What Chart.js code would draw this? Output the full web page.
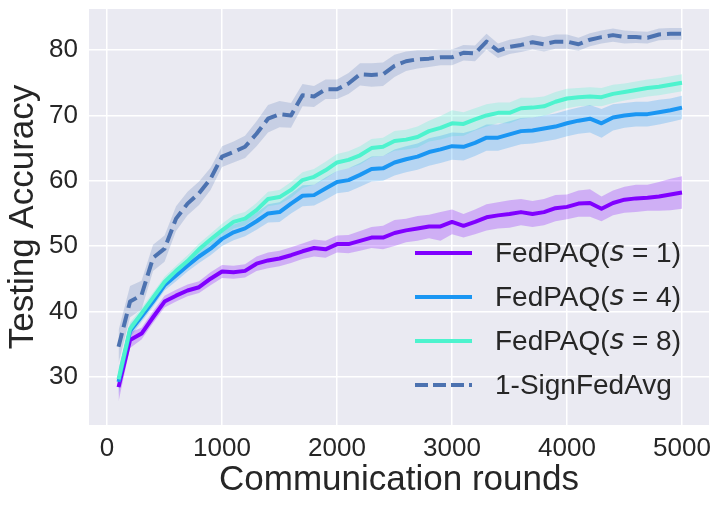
<!DOCTYPE html>
<html>
<head>
<meta charset="utf-8">
<script src="https://cdn.jsdelivr.net/npm/chart.js@4.4.1/dist/chart.umd.min.js"></script>
<style>
  html, body { margin: 0; padding: 0; background: #fff; }
  #wrap { width: 722px; height: 509px; }
</style>
</head>
<body>
<div id="wrap"><canvas id="acc" width="722" height="509"></canvas></div>
<script>
// communication rounds (x) for every recorded point
var rounds = [100, 200, 300, 400, 500, 600, 700, 800, 900, 1000,
  1100, 1200, 1300, 1400, 1500, 1600, 1700, 1800, 1900, 2000,
  2100, 2200, 2300, 2400, 2500, 2600, 2700, 2800, 2900, 3000,
  3100, 3200, 3300, 3400, 3500, 3600, 3700, 3800, 3900, 4000,
  4100, 4200, 4300, 4400, 4500, 4600, 4700, 4800, 4900, 5000];

// mean testing accuracy
var accS1 = [28.4, 35.6, 36.6, 39.1, 41.5, 42.4, 43.2, 43.7, 45.0, 46.1,
  46.0, 46.2, 47.3, 47.8, 48.1, 48.6, 49.2, 49.7, 49.5, 50.3,
  50.3, 50.8, 51.3, 51.3, 52.0, 52.4, 52.7, 53.0, 53.0, 53.7,
  53.1, 53.7, 54.4, 54.7, 54.9, 55.2, 54.9, 55.2, 55.8, 56.0,
  56.5, 56.6, 55.7, 56.6, 57.1, 57.3, 57.4, 57.6, 57.9, 58.2];
var accS4 = [29.2, 37.0, 39.2, 41.5, 44.0, 45.5, 47.0, 48.4, 49.6, 51.1,
  52.1, 52.7, 53.8, 55.0, 55.2, 56.5, 57.7, 57.8, 58.8, 59.8,
  60.1, 60.9, 61.8, 61.9, 62.8, 63.3, 63.7, 64.4, 64.8, 65.3,
  65.2, 65.8, 66.6, 66.6, 67.1, 67.6, 67.7, 68.0, 68.3, 68.8,
  69.2, 69.5, 68.8, 69.7, 70.0, 70.2, 70.2, 70.5, 70.8, 71.2];
var accS8 = [29.6, 37.3, 39.7, 42.1, 44.5, 46.2, 47.7, 49.5, 51.0, 52.4,
  53.7, 54.2, 55.5, 57.2, 57.5, 58.6, 60.1, 60.6, 61.6, 62.8,
  63.2, 63.9, 65.0, 65.2, 66.1, 66.3, 66.7, 67.6, 68.1, 68.8,
  68.7, 69.4, 70.0, 70.4, 70.4, 71.1, 71.2, 71.4, 72.1, 72.6,
  72.8, 72.9, 72.8, 73.3, 73.6, 73.9, 74.2, 74.4, 74.7, 75.0];
var accSign = [34.6, 41.5, 42.5, 48.2, 49.6, 54.2, 56.5, 58.1, 60.3, 63.7,
  64.4, 65.2, 67.2, 69.5, 70.2, 70.0, 73.1, 72.9, 74.0, 74.0,
  74.9, 76.3, 76.2, 76.3, 77.6, 78.3, 78.6, 78.7, 78.9, 78.9,
  79.6, 79.5, 81.3, 79.9, 80.5, 80.8, 81.2, 80.9, 81.3, 81.3,
  80.9, 81.6, 82.0, 82.3, 82.0, 82.0, 81.9, 82.4, 82.5, 82.5];

// half width of the shaded band around each mean
var spreadS1 = [2.2, 1.2, 0.9, 0.9, 0.9, 0.9, 0.9, 0.9, 1.0, 1.0,
  1.0, 1.0, 1.1, 1.2, 1.2, 1.2, 1.2, 1.3, 1.3, 1.3,
  1.4, 1.5, 1.6, 1.8, 2.0, 1.8, 1.9, 1.8, 2.2, 1.9,
  1.8, 1.9, 2.0, 2.0, 2.1, 2.0, 2.0, 2.0, 2.0, 1.9,
  2.0, 2.1, 1.9, 1.9, 2.0, 2.1, 2.0, 2.2, 2.4, 2.5];
var spreadS4 = [2.0, 1.0, 0.8, 0.8, 0.8, 0.9, 0.9, 1.0, 1.0, 1.1,
  1.2, 1.2, 1.3, 1.4, 1.5, 1.5, 1.6, 1.6, 1.7, 1.7,
  1.8, 1.8, 1.9, 1.9, 2.0, 2.0, 2.0, 2.1, 2.1, 2.1,
  2.1, 2.0, 2.0, 2.0, 2.0, 2.0, 2.0, 2.0, 2.0, 2.0,
  2.0, 2.1, 2.2, 2.0, 1.9, 1.9, 1.9, 1.9, 1.8, 1.8];
var spreadS8 = [1.5, 1.0, 0.8, 0.8, 0.8, 0.8, 0.9, 0.9, 0.9, 1.0,
  1.0, 1.0, 1.1, 1.1, 1.1, 1.2, 1.2, 1.2, 1.3, 1.3,
  1.3, 1.4, 1.4, 1.4, 1.5, 1.5, 1.6, 1.6, 1.8, 2.0,
  1.8, 1.7, 1.7, 1.6, 1.6, 1.6, 1.5, 1.5, 1.5, 1.5,
  1.4, 1.4, 1.4, 1.4, 1.3, 1.3, 1.3, 1.3, 1.3, 1.3];
var spreadSign = [2.5, 2.4, 2.2, 2.0, 2.0, 1.9, 1.8, 1.8, 1.7, 1.6,
  1.6, 1.7, 1.9, 2.1, 2.0, 1.9, 1.7, 1.6, 1.5, 1.5,
  1.6, 1.7, 1.8, 1.8, 1.7, 1.5, 1.4, 1.3, 1.2, 1.2,
  1.2, 1.2, 1.2, 1.1, 1.1, 1.1, 1.1, 1.1, 1.1, 1.1,
  1.0, 1.0, 1.0, 1.0, 1.0, 0.9, 0.9, 0.9, 0.9, 0.9];

var seriesNames = ['FedPAQ($s=1$)', 'FedPAQ($s=4$)', 'FedPAQ($s=8$)', '1-SignFedAvg'];
var xTicks = [0, 1000, 2000, 3000, 4000, 5000];
var yTicks = [30, 40, 50, 60, 70, 80];

var textColor = '#262626';
var fontFamily = '"Liberation Sans", Arial, sans-serif';

function pts(vals, off, sign) {
  return rounds.map(function(r, i) {
    return { x: r, y: off ? vals[i] + sign * off[i] : vals[i] };
  });
}

var series = [
  { vals: accS1, spread: spreadS1, color: '#8000ff', band: 'rgba(128,0,255,0.25)', dash: [] },
  { vals: accS4, spread: spreadS4, color: '#1a96f3', band: 'rgba(26,150,243,0.25)', dash: [] },
  { vals: accS8, spread: spreadS8, color: '#4df3ce', band: 'rgba(77,243,206,0.25)', dash: [] },
  { vals: accSign, spread: spreadSign, color: '#4c72b0', band: 'rgba(76,114,176,0.22)', dash: [14, 6] }
];

var datasets = [];
series.forEach(function(s, i) {
  datasets.push({
    data: pts(s.vals, s.spread, -1),
    borderWidth: 0, pointRadius: 0, fill: false, order: 20
  });
  datasets.push({
    data: pts(s.vals, s.spread, 1),
    borderWidth: 0, pointRadius: 0, fill: '-1', backgroundColor: s.band, order: 20
  });
});
series.forEach(function(s, i) {
  datasets.push({
    legendLabel: seriesNames[i],
    data: pts(s.vals),
    borderColor: s.color,
    borderWidth: 4,
    borderDash: s.dash,
    pointRadius: 0,
    fill: false,
    tension: 0,
    borderJoinStyle: 'round',
    order: 10 - i
  });
});

// seaborn style grey panel behind the grid
var panelBg = {
  id: 'panelBg',
  beforeDraw: function(chart) {
    var a = chart.chartArea, ctx = chart.ctx;
    ctx.save();
    ctx.fillStyle = '#eaeaf2';
    ctx.fillRect(a.left, a.top, a.right - a.left, a.bottom - a.top);
    ctx.restore();
  }
};

// legend inside the axes, lower right, no frame
function drawLabel(ctx, label, x, y, size) {
  var parts = label.split('$');
  parts.forEach(function(p, k) {
    if (k % 2 === 0) {
      ctx.font = size + 'px ' + fontFamily;
      ctx.fillText(p, x, y);
      x += ctx.measureText(p).width;
    } else {
      var toks = p.split('=');
      ctx.font = 'italic ' + size + 'px "DejaVu Sans"';
      ctx.fillText(toks[0], x, y);
      x += ctx.measureText(toks[0]).width;
      ctx.font = size + 'px ' + fontFamily;
      var rest = ' = ' + toks[1];
      ctx.fillText(rest, x, y);
      x += ctx.measureText(rest).width;
    }
  });
}

var innerLegend = {
  id: 'innerLegend',
  afterDraw: function(chart) {
    var ctx = chart.ctx, a = chart.chartArea;
    var items = chart.data.datasets.filter(function(d) { return d.legendLabel; });
    var x0 = a.right - 294, y0 = a.bottom - 172, rowH = 44;
    ctx.save();
    ctx.textBaseline = 'middle';
    ctx.fillStyle = textColor;
    items.forEach(function(d, i) {
      var y = y0 + i * rowH;
      ctx.strokeStyle = d.borderColor;
      ctx.lineWidth = 4;
      ctx.setLineDash(d.borderDash && d.borderDash.length ? [13, 5] : []);
      ctx.beginPath();
      ctx.moveTo(x0, y);
      ctx.lineTo(x0 + 57, y);
      ctx.stroke();
      ctx.setLineDash([]);
      drawLabel(ctx, d.legendLabel, x0 + 80, y + 1, 28);
    });
    ctx.restore();
  }
};

new Chart('acc', {
  type: 'line',
  data: { datasets: datasets },
  plugins: [panelBg, innerLegend],
  options: {
    responsive: false,
    animation: false,
    layout: { padding: { top: 9, right: 13, left: 0, bottom: 0 } },
    plugins: {
      legend: { display: false },
      tooltip: { enabled: false },
      filler: { drawTime: 'beforeDatasetsDraw' }
    },
    scales: {
      x: {
        type: 'linear',
        min: -157,
        max: 5235,
        afterBuildTicks: function(s) { s.ticks = xTicks.map(function(v) { return { value: v }; }); },
        afterFit: function(s) { s.height = 84; s.paddingLeft = 0; s.paddingRight = 0; },
        grid: { color: '#ffffff', lineWidth: 1.5, drawTicks: false },
        border: { display: false },
        ticks: {
          color: textColor, padding: 8, maxRotation: 0, autoSkip: false,
          font: { family: fontFamily, size: 26 },
          callback: function(v) { return String(v); }
        },
        title: {
          display: true, text: 'Communication rounds', color: textColor,
          font: { family: fontFamily, size: 35 },
          padding: { top: 0, bottom: 8 }
        }
      },
      y: {
        min: 22.6,
        max: 86.3,
        afterBuildTicks: function(s) { s.ticks = yTicks.map(function(v) { return { value: v }; }); },
        afterFit: function(s) { s.width = 89; s.paddingTop = 0; s.paddingBottom = 0; },
        grid: { color: '#ffffff', lineWidth: 1.5, drawTicks: false },
        border: { display: false },
        ticks: {
          color: textColor, padding: 11,
          font: { family: fontFamily, size: 26 },
          callback: function(v) { return String(v); }
        },
        title: {
          display: true, text: 'Testing Accuracy', color: textColor,
          font: { family: fontFamily, size: 35 },
          padding: { top: 2, bottom: 0 }
        }
      }
    }
  }
});
</script>
</body>
</html>
